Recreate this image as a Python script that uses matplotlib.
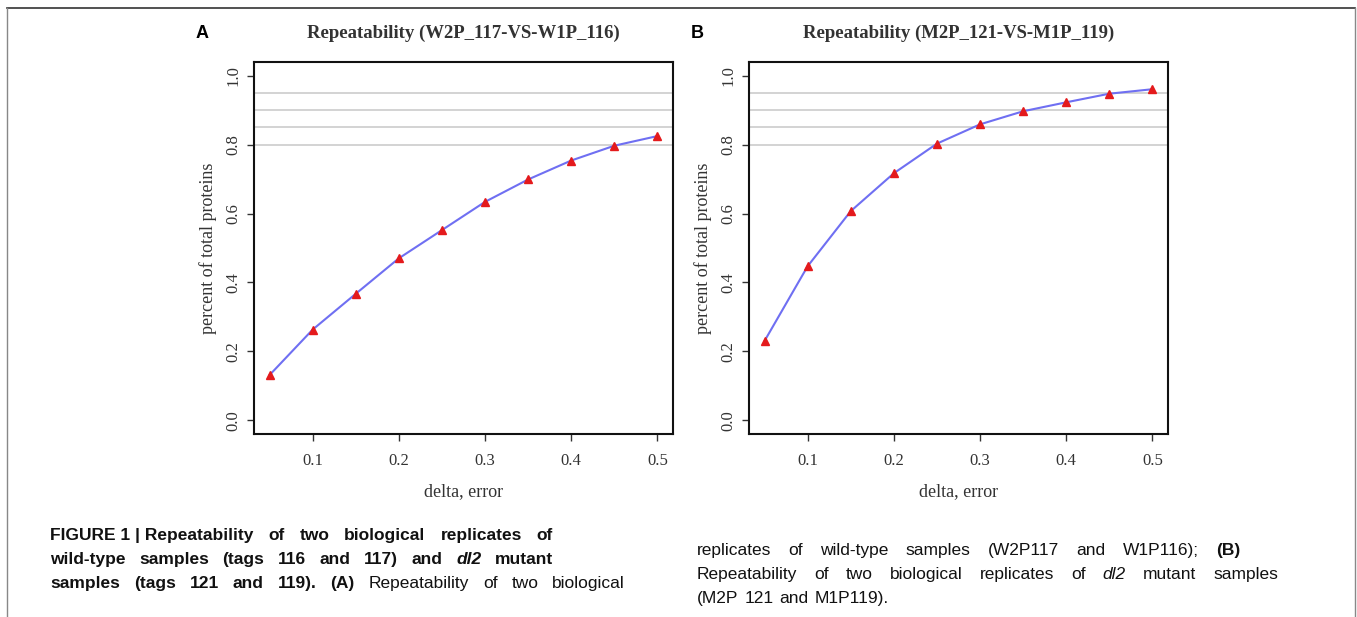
import matplotlib.pyplot as plt
from matplotlib.lines import Line2D

# datos
delta = [0.05, 0.10, 0.15, 0.20, 0.25, 0.30, 0.35, 0.40, 0.45, 0.50]
repet_a = [0.131, 0.263, 0.367, 0.470, 0.552, 0.634, 0.699, 0.754, 0.797, 0.825]
repet_b = [0.230, 0.447, 0.607, 0.717, 0.803, 0.859, 0.897, 0.923, 0.948, 0.961]
niveles = [0.80, 0.85, 0.90, 0.95]
titulos = ['Repeatability (W2P_117-VS-W1P_116)', 'Repeatability (M2P_121-VS-M1P_119)']
letras = ['A', 'B']

W, H = 1357, 617
fig = plt.figure(figsize=(W / 100, H / 100), dpi=100)
serif = ['Liberation Serif', 'DejaVu Serif']
sans = ['Liberation Sans', 'DejaVu Sans']


def px(x, y):
    return x / W, 1 - y / H


paneles = [(254, repet_a), (749, repet_b)]
for i, (x0, valores) in enumerate(paneles):
    ax = fig.add_axes([x0 / W, 1 - 434 / H, 419 / W, 372 / H])
    for n in niveles:
        ax.axhline(n, color='#cccccc', lw=1.2, zorder=1)
    ax.plot(delta, valores, color='#6f6ff2', lw=1.5, zorder=2)
    ax.plot(delta, valores, linestyle='none', marker='^', color='#e41a1c', markersize=6, zorder=3)
    ax.set_xlim(0.032, 0.518)
    ax.set_ylim(-0.04, 1.04)
    ax.set_xticks([0.1, 0.2, 0.3, 0.4, 0.5])
    ax.set_yticks([0.0, 0.2, 0.4, 0.6, 0.8, 1.0])
    ax.set_xticklabels(['0.1', '0.2', '0.3', '0.4', '0.5'], family=serif, fontsize=12, color='#333333')
    ax.set_yticklabels(['0.0', '0.2', '0.4', '0.6', '0.8', '1.0'], family=serif, fontsize=12, color='#333333',
                       rotation=90, va='center')
    ax.tick_params(axis='x', length=5, width=1, pad=8.5, color='#333333')
    ax.tick_params(axis='y', length=5, width=1, pad=4, color='#333333')
    for s in ax.spines.values():
        s.set_linewidth(1.5)
        s.set_color('#111111')
    ax.set_xlabel('delta, error', family=serif, fontsize=13, color='#333333', labelpad=10)
    ax.set_ylabel('percent of total proteins', family=serif, fontsize=13, color='#333333', labelpad=6)
    ax.set_title(titulos[i], family=serif, fontsize=13.5, fontweight='bold', color='#333333', pad=17)
    fig.text(*px(x0 - 58, 33), letras[i], family=sans, fontsize=13, fontweight='bold', va='center')

# marco
fig.add_artist(Line2D([7 / W, 1355 / W], [1 - 8 / H, 1 - 8 / H], color='#333333', lw=1.2))
fig.add_artist(Line2D([7 / W, 7 / W], [0, 1 - 8 / H], color='#888888', lw=1.0))
fig.add_artist(Line2D([1355 / W, 1355 / W], [0, 1 - 8 / H], color='#888888', lw=1.0))

# pie de figura, justificado palabra a palabra
B, R, I, BI = ('bold', 'normal'), ('normal', 'normal'), ('normal', 'italic'), ('bold', 'italic')
lineas = [
    (50, 540, 553, [('FIGURE 1 | Repeatability', B), ('of', B), ('two', B), ('biological', B),
                    ('replicates', B), ('of', B)]),
    (50, 564, 553, [('wild-type', B), ('samples', B), ('(tags', B), ('116', B), ('and', B), ('117)', B),
                    ('and', B), ('dl2', BI), ('mutant', B)]),
    (50, 588, 625, [('samples', B), ('(tags', B), ('121', B), ('and', B), ('119).', B), ('(A)', B),
                    ('Repeatability', R), ('of', R), ('two', R), ('biological', R)]),
    (697, 555, 1240, [('replicates', R), ('of', R), ('wild-type', R), ('samples', R), ('(W2P117', R),
                      ('and', R), ('W1P116);', R), ('(B)', B)]),
    (697, 579, 1278, [('Repeatability', R), ('of', R), ('two', R), ('biological', R), ('replicates', R),
                      ('of', R), ('dl2', I), ('mutant', R), ('samples', R)]),
    (697, 603, 830, [('(M2P', R), ('121', R), ('and', R), ('M1P119).', R)]),
]
renderer = fig.canvas.get_renderer()
for x0, y, x1, palabras in lineas:
    textos = []
    for w, (peso, estilo) in palabras:
        t = fig.text(*px(x0, y), w, family=sans, fontsize=12.5, fontweight=peso, fontstyle=estilo,
                     color='#111111', va='baseline')
        textos.append(t)
    anchos = [t.get_window_extent(renderer).width for t in textos]
    hueco = max((x1 - x0 - sum(anchos)) / (len(textos) - 1), 6)
    x = x0
    for t, a in zip(textos, anchos):
        t.set_x(x / W)
        x += a + hueco

fig.savefig('out.png', dpi=100)
